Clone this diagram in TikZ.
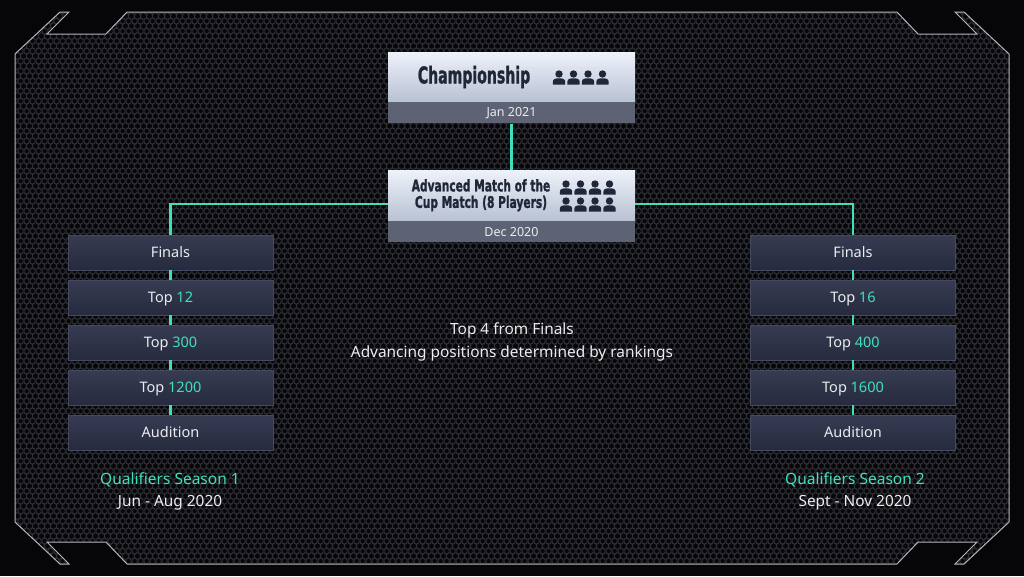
\documentclass[tikz,border=0pt]{standalone}
\usepackage{fontspec}
\usepackage{graphicx}
\setmainfont{Noto Sans}
\newfontfamily\titlefont{DejaVu Sans Condensed}[BoldFeatures={FakeBold=1.6}]
\usetikzlibrary{patterns}
\definecolor{bgcol}{HTML}{060608}
\definecolor{meshcol}{HTML}{2E2F36}
\definecolor{framecol}{HTML}{B4B6BA}
\definecolor{teal}{HTML}{40DFBC}
\definecolor{dboxtop}{HTML}{383C52}
\definecolor{dboxbot}{HTML}{262A3E}
\definecolor{dboxedge}{HTML}{454A60}
\definecolor{ltop}{HTML}{EEF2FA}
\definecolor{lbot}{HTML}{B7C1D2}
\definecolor{bandcol}{HTML}{5D6374}
\definecolor{titlecol}{HTML}{1F2739}
\definecolor{txt}{HTML}{ECECEE}
\pgfdeclarepatternformonly{hexmesh}{\pgfqpoint{0pt}{0pt}}{\pgfqpoint{6pt}{10.392pt}}{\pgfqpoint{6pt}{10.392pt}}{%
  \pgfsetlinewidth{1.4pt}%
  \pgfpathmoveto{\pgfqpoint{3pt}{0pt}}\pgfpathlineto{\pgfqpoint{3pt}{1.732pt}}%
  \pgfpathlineto{\pgfqpoint{0pt}{3.464pt}}\pgfpathlineto{\pgfqpoint{0pt}{6.928pt}}%
  \pgfpathlineto{\pgfqpoint{3pt}{8.66pt}}\pgfpathlineto{\pgfqpoint{3pt}{10.392pt}}%
  \pgfpathmoveto{\pgfqpoint{3pt}{1.732pt}}\pgfpathlineto{\pgfqpoint{6pt}{3.464pt}}%
  \pgfpathlineto{\pgfqpoint{6pt}{6.928pt}}\pgfpathlineto{\pgfqpoint{3pt}{8.66pt}}%
  \pgfusepath{stroke}}
\tikzset{
  darkbox/.style={rectangle, minimum width=205pt, minimum height=35pt, inner sep=0pt,
    text height=11.5pt, text depth=1.5pt,
    top color=dboxtop, bottom color=dboxbot, draw=dboxedge, line width=0.6pt,
    text=txt, font=\fontsize{14.5}{16}\selectfont},
  lightbox/.style={rectangle, minimum width=247pt, inner sep=0pt,
    top color=ltop, bottom color=lbot, draw=none},
  bandbox/.style={rectangle, minimum width=247pt, minimum height=21pt, inner sep=0pt,
    fill=bandcol, text=txt, font=\fontsize{12.5}{14}\selectfont},
  conn/.style={draw=teal, line width=2.4pt},
  titletext/.style={text=titlecol, inner sep=0pt, align=center},
  plain/.style={text=txt, inner sep=0pt, align=center, font=\fontsize{15.4}{23}\selectfont},
  qual/.style={text=teal, inner sep=0pt, font=\fontsize{15.5}{18}\selectfont},
  person/.pic={
    \fill[titlecol] (0,0) circle[radius=3.7pt];
    \fill[titlecol] (-6.2,10.5) -- (-6.2,8) .. controls (-6.2,4.8) and (-3.4,4.3) .. (0,4.3)
      .. controls (3.4,4.3) and (6.2,4.8) .. (6.2,8) -- (6.2,10.5) -- cycle;
  }
}
\newcommand{\tl}[1]{\textcolor{teal}{#1}}
\begin{document}
\begin{tikzpicture}[x=1pt,y=-1pt]
\useasboundingbox (0,0) rectangle (1024,576);
\fill[bgcol] (0,0) rectangle (1024,576);
% frame with mesh
\path[pattern=hexmesh, pattern color=meshcol]
  (15,54) -- (60,12) -- (69,12) -- (47,34) -- (106,34) -- (127,12) -- (897,12) -- (918,34)
  -- (977,34) -- (955,12) -- (964,12) -- (1009,54) -- (1009,522) -- (964,564) -- (955,564)
  -- (977,542) -- (918,542) -- (897,564) -- (127,564) -- (106,542) -- (47,542) -- (69,564)
  -- (60,564) -- (15,522) -- cycle;
\draw[framecol, line width=1pt, line join=miter]
  (15,54) -- (60,12) -- (69,12) -- (47,34) -- (106,34) -- (127,12) -- (897,12) -- (918,34)
  -- (977,34) -- (955,12) -- (964,12) -- (1009,54) -- (1009,522) -- (964,564) -- (955,564)
  -- (977,542) -- (918,542) -- (897,564) -- (127,564) -- (106,542) -- (47,542) -- (69,564)
  -- (60,564) -- (15,522) -- cycle;

% championship
\node[lightbox, minimum height=50pt] (champ) at (511.5,77) {};
\node[bandbox, anchor=north] (champdate) at (champ.south) {Jan 2021};
\node[titletext] (champtitle) at (474,77)
  {\scalebox{0.68}[1]{\titlefont\bfseries\fontsize{23}{26}\selectfont Championship}};
\pic at (559,74) {person};
\pic at (573.5,74) {person};
\pic at (588,74) {person};
\pic at (602.5,74) {person};

% advanced
\node[lightbox, minimum height=51pt] (adv) at (511.5,195.5) {};
\node[bandbox, anchor=north] (advdate) at (adv.south) {Dec 2020};
\node[titletext] (advtitle) at (481,196)
  {\scalebox{0.74}[1]{\titlefont\bfseries\fontsize{16}{18}\selectfont\begin{tabular}{@{}c@{}}Advanced Match of the\\[-1.5pt] Cup Match (8 Players)\end{tabular}}};
\foreach \px in {566,580.5,595,609.5}{
  \pic at (\px,184) {person};
  \pic at (\px,201) {person};
}

% left column
\node[darkbox] (L1) at (170.5,252.5) {Finals};
\node[darkbox] (L2) at (170.5,297.5) {Top \tl{12}};
\node[darkbox] (L3) at (170.5,342.5) {Top \tl{300}};
\node[darkbox] (L4) at (170.5,387.5) {Top \tl{1200}};
\node[darkbox] (L5) at (170.5,432.5) {Audition};
% right column
\node[darkbox] (R1) at (853,252.5) {Finals};
\node[darkbox] (R2) at (853,297.5) {Top \tl{16}};
\node[darkbox] (R3) at (853,342.5) {Top \tl{400}};
\node[darkbox] (R4) at (853,387.5) {Top \tl{1600}};
\node[darkbox] (R5) at (853,432.5) {Audition};

% connectors
\draw[conn] (champdate.south) -- (adv.north);
\draw[conn] ([yshift=-8.5pt]adv.west) -| (L1.north);
\draw[conn] ([yshift=-8.5pt]adv.east) -| (R1.north);
\draw[conn] (L1) -- (L2); \draw[conn] (L2) -- (L3); \draw[conn] (L3) -- (L4); \draw[conn] (L4) -- (L5);
\draw[conn] (R1) -- (R2); \draw[conn] (R2) -- (R3); \draw[conn] (R3) -- (R4); \draw[conn] (R4) -- (R5);

% texts
\node[plain] (center) at (512,342) {Top 4 from Finals\\Advancing positions determined by rankings};
\node[qual] (q1) at (170,479.5) {Qualifiers Season 1};
\node[plain] (d1) at (170,502.5) {Jun - Aug 2020};
\node[qual] (q2) at (855,479.5) {Qualifiers Season 2};
\node[plain] (d2) at (855,502.5) {Sept - Nov 2020};
\end{tikzpicture}
\end{document}
